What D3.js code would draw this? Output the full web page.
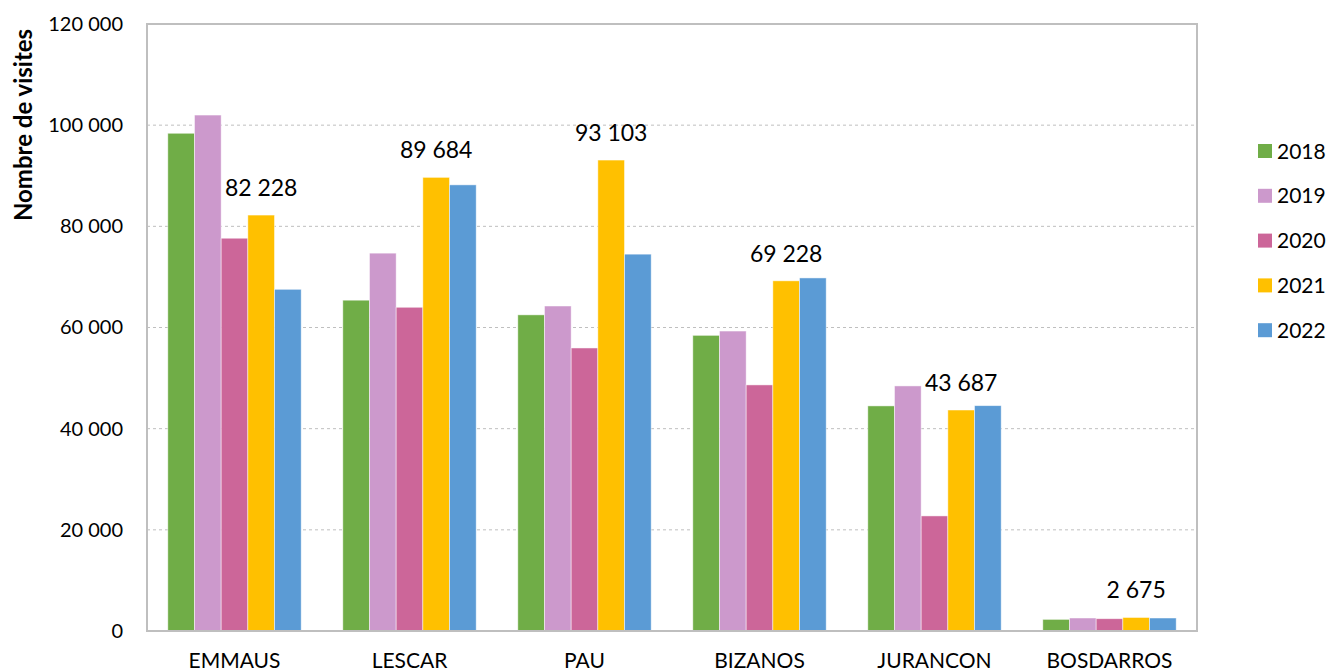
<!DOCTYPE html>
<html>
<head>
<meta charset="utf-8">
<script src="https://cdn.jsdelivr.net/npm/d3@7"></script>
<style>
  body { margin: 0; background: #fff; }
  svg { display: block; font-family: Lato, "Open Sans", sans-serif; }
  .grid line { stroke: #bfbfbf; stroke-dasharray: 3,3; }
</style>
</head>
<body>
<svg id="canvas" width="1328" height="671"></svg>
<script>
// chart data
const categories = ["EMMAUS", "LESCAR", "PAU", "BIZANOS", "JURANCON", "BOSDARROS"];
const years = ["2018", "2019", "2020", "2021", "2022"];
const v2018 = [98400, 65400, 62500, 58450, 44500, 2300];
const v2019 = [102000, 74700, 64250, 59300, 48450, 2570];
const v2020 = [77650, 64000, 55950, 48650, 22750, 2430];
const v2021 = [82228, 89684, 93103, 69228, 43687, 2675];
const v2022 = [67550, 88200, 74500, 69800, 44550, 2570];
const yTicks = [0, 20000, 40000, 60000, 80000, 100000, 120000];
const colors = ["#70ad47", "#cc99cc", "#cc6699", "#ffc000", "#5b9bd5"];
const labelledYear = "2021";

const seriesValues = [v2018, v2019, v2020, v2021, v2022];

const margin = {left: 147, top: 24, right: 131, bottom: 40};
const width = 1050, height = 607;

const svg = d3.select("#canvas");
const g = svg.append("g").attr("transform", `translate(${margin.left},${margin.top})`);

const x0 = d3.scaleBand().domain(categories).range([0, width]).padding(0);
const x1 = d3.scaleBand().domain(years).range([0, x0.bandwidth()])
    .paddingInner(0).paddingOuter(0.78);
const y = d3.scaleLinear().domain([0, 120000]).range([height, 0]);
const color = d3.scaleOrdinal().domain(years).range(colors);

const fmt = v => d3.format(",")(v).replace(/,/g, " ");

// gridlines
g.append("g").attr("class", "grid")
    .selectAll("line")
    .data(yTicks.filter(t => t > 0 && t < 120000))
    .enter().append("line")
    .attr("x1", 0).attr("x2", width)
    .attr("y1", d => y(d)).attr("y2", d => y(d));

// bars
const rows = categories.map((c, i) => ({
    cat: c,
    vals: years.map((yr, j) => ({year: yr, value: seriesValues[j][i]}))
}));

const group = g.selectAll("g.cat")
    .data(rows)
    .enter().append("g")
    .attr("class", "cat")
    .attr("transform", d => `translate(${x0(d.cat)},0)`);

group.selectAll("rect")
    .data(d => d.vals)
    .enter().append("rect")
    .attr("x", d => x1(d.year))
    .attr("width", x1.bandwidth())
    .attr("y", d => y(d.value))
    .attr("height", d => height - y(d.value))
    .attr("fill", d => color(d.year))
    .attr("stroke", "#ffffff")
    .attr("stroke-opacity", 0.6)
    .attr("stroke-width", 0.8);

// data labels on 2021
group.selectAll("text.lbl")
    .data(d => d.vals.filter(v => v.year === labelledYear))
    .enter().append("text")
    .attr("class", "lbl")
    .attr("x", d => x1(d.year) + x1.bandwidth() / 2)
    .attr("y", d => y(d.value) - 19)
    .attr("text-anchor", "middle")
    .style("font-size", "23px")
    .attr("fill", "#000")
    .text(d => fmt(d.value));

// plot frame
g.append("rect")
    .attr("x", 0).attr("y", 0)
    .attr("width", width).attr("height", height)
    .attr("fill", "none")
    .attr("stroke", "#bfbfbf")
    .attr("stroke-width", 2);

// y axis labels
const yAxis = d3.axisLeft(y).tickValues(yTicks).tickSize(0).tickPadding(24).tickFormat(fmt);
g.append("g").call(yAxis)
    .call(a => a.select(".domain").remove())
    .selectAll("text")
    .style("font-family", "Lato, 'Open Sans', sans-serif")
    .style("font-size", "20px")
    .attr("fill", "#000");

// x axis labels
const xAxis = d3.axisBottom(x0).tickSize(0).tickPadding(22);
g.append("g").attr("transform", `translate(0,${height})`).call(xAxis)
    .call(a => a.select(".domain").remove())
    .selectAll("text")
    .style("font-family", "Lato, 'Open Sans', sans-serif")
    .style("font-size", "21px")
    .attr("fill", "#000");

// y title
svg.append("text")
    .attr("transform", "translate(32,125) rotate(-90)")
    .attr("text-anchor", "middle")
    .style("font-size", "24px")
    .style("font-weight", "bold")
    .text("Nombre de visites");

// legend
const legend = svg.append("g").attr("transform", "translate(1258,151)");
const item = legend.selectAll("g")
    .data(years)
    .enter().append("g")
    .attr("transform", (d, i) => `translate(0,${i * 44.8})`);
item.append("rect")
    .attr("x", 0).attr("y", -7)
    .attr("width", 14).attr("height", 14)
    .attr("fill", d => color(d));
item.append("text")
    .attr("x", 19).attr("y", 7.5)
    .style("font-size", "21px")
    .text(d => d);
</script>
</body>
</html>
